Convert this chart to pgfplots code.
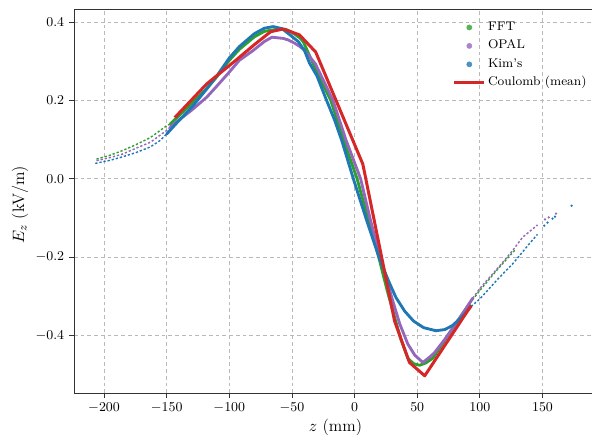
\documentclass[border=0pt]{standalone}
\usepackage{pgfplots}
\pgfplotsset{compat=1.18}

\definecolor{tabgreen}{HTML}{2CA02C}
\definecolor{tabpurple}{HTML}{9467BD}
\definecolor{tabblue}{HTML}{1F77B4}
\definecolor{tabred}{HTML}{D62728}

\pgfplotsset{
  core/.style={line width=1.9pt, line join=round, line cap=round, forget plot},
  tail/.style={line width=0.95pt, dash pattern=on 1.5pt off 1.3pt, forget plot},
  sparse/.style={only marks, mark=*, mark size=0.55pt, forget plot},
}

\begin{document}
\begin{tikzpicture}
\begin{axis}[
  scale only axis,
  width=348.7pt, height=256pt,
  xmin=-224, xmax=193.6,
  ymin=-0.547, ymax=0.433,
  xtick={-200,-150,...,150},
  ytick={-0.4,-0.2,0,0.2,0.4},
  yticklabel style={/pgf/number format/.cd, fixed, fixed zerofill, precision=1},
  tick label style={font=\fontsize{9.2}{11}\selectfont},
  tick align=outside,
  xtick pos=lower, ytick pos=left,
  major tick length=3pt,
  tick style={black!80, line width=0.5pt},
  axis line style={black!80, line width=0.6pt},
  grid=major,
  major grid style={gray!55, line width=0.5pt, dash pattern=on 2.5pt off 2pt},
  xlabel={$z$ (mm)},
  ylabel={$E_z$ (kV/m)},
  label style={font=\fontsize{11}{13}\selectfont},
  xlabel style={at={(axis description cs:0.5,-0.09)}, anchor=center},
  ylabel style={at={(axis description cs:-0.103,0.49)}, anchor=center},
  legend style={
    at={(axis description cs:0.715,0.982)}, anchor=north west,
    draw=none, fill=none,
    font=\fontsize{8.4}{10}\selectfont,
    row sep=1.3pt,
    nodes={inner sep=1.5pt, text height=6pt, text depth=2pt},
  },
  legend cell align=left,
]

% FFT
\addplot[tail, tabgreen] coordinates {
  (-206,0.050) (-195,0.060) (-185,0.072) (-175,0.086) (-163,0.105) (-150,0.135) (-147,0.140)
};
\addplot[core, tabgreen] coordinates {
  (-147,0.140) (-130,0.192) (-118,0.230) (-110,0.260) (-100,0.302) (-92,0.330)
  (-80,0.362) (-72,0.376) (-62,0.381) (-55,0.381) (-50,0.374) (-44,0.360)
  (-41,0.350) (-33,0.293) (-26,0.245) (-19,0.200) (-9,0.100) (2,0.000)
  (10,-0.093) (20,-0.209) (26,-0.285) (32,-0.354) (37,-0.410) (42.5,-0.458)
  (47,-0.472) (52,-0.476) (57,-0.470) (62.4,-0.458) (70,-0.422) (80,-0.373) (92,-0.318)
};
\addplot[tail, tabgreen] coordinates {
  (92,-0.318) (100,-0.285) (115,-0.228) (128,-0.182)
};

% OPAL
\addplot[tail, tabpurple] coordinates {
  (-206,0.046) (-195,0.054) (-185,0.063) (-175,0.077) (-163,0.093) (-150,0.123) (-147,0.133)
};
\addplot[core, tabpurple] coordinates {
  (-147,0.133) (-142,0.145) (-130,0.175) (-118,0.208) (-110,0.236) (-100,0.272)
  (-92,0.302) (-81,0.327) (-72,0.350) (-66,0.361) (-57,0.358) (-53,0.354)
  (-48,0.346) (-44,0.338) (-40,0.328) (-31.3,0.293) (-24,0.245) (-17.3,0.200)
  (-7,0.100) (4.8,0.000) (13,-0.110) (21.3,-0.209) (30.5,-0.312) (36,-0.370)
  (42.5,-0.422) (48,-0.450) (54.5,-0.469) (60,-0.455) (63.8,-0.444) (72,-0.410)
  (82,-0.365) (94.3,-0.305)
};
\addplot[tail, tabpurple] coordinates {
  (94.3,-0.305) (100,-0.280) (116,-0.222) (126,-0.184) (134,-0.150) (146,-0.118)
};
\addplot[sparse, tabpurple] coordinates {
  (152,-0.104) (155,-0.099) (160.8,-0.089)
};

% Kim's
\addplot[tail, tabblue] coordinates {
  (-207,0.039) (-195,0.047) (-185,0.056) (-175,0.066) (-163,0.081) (-155,0.098) (-150,0.114)
};
\addplot[core, tabblue] coordinates {
  (-150,0.114) (-142,0.142) (-129,0.186) (-118,0.229) (-110,0.262) (-100,0.308)
  (-92,0.337) (-80,0.370) (-72,0.384) (-65,0.388) (-58,0.383) (-52,0.368)
  (-45,0.350) (-40,0.327) (-36,0.295) (-30,0.262) (-23,0.205) (-16,0.150)
  (-10,0.095) (-1,0.000) (10,-0.110) (20,-0.205) (27,-0.260) (33,-0.303)
  (40,-0.338) (47,-0.363) (55,-0.380) (65,-0.388) (72,-0.385) (78,-0.375)
  (86,-0.352) (93,-0.326)
};
\addplot[tail, tabblue] coordinates {
  (93,-0.326) (99.6,-0.308) (115.6,-0.252) (126,-0.218) (131.5,-0.197) (139.5,-0.166) (146,-0.142)
};
\addplot[sparse, tabblue] coordinates {
  (151.4,-0.120) (154,-0.112) (158,-0.102) (160,-0.097) (173.2,-0.069)
};

% Coulomb (mean)
\addplot[tabred, line width=2pt, line join=round, forget plot] coordinates {
  (-143.5,0.156) (-118,0.242) (-95.6,0.300) (-80,0.342) (-67,0.375) (-57,0.382)
  (-44,0.367) (-31,0.323) (6.6,0.037) (31.9,-0.363) (43.8,-0.469) (56,-0.503) (93,-0.324)
};

\addlegendimage{legend image code/.code={\fill[tabgreen!80!white] (10pt,0pt) circle (1.7pt);}}
\addlegendentry{FFT}
\addlegendimage{legend image code/.code={\fill[tabpurple!80!white] (10pt,0pt) circle (1.7pt);}}
\addlegendentry{OPAL}
\addlegendimage{legend image code/.code={\fill[tabblue!80!white] (10pt,0pt) circle (1.7pt);}}
\addlegendentry{Kim's}
\addlegendimage{legend image code/.code={\draw[tabred, line width=2pt] (0pt,0pt) -- (20pt,0pt);}}
\addlegendentry{Coulomb (mean)}

\coordinate (sw) at (rel axis cs:0,0);
\coordinate (ne) at (rel axis cs:1,1);
\end{axis}
\pgfresetboundingbox
\path[use as bounding box] ([xshift=-49.3pt,yshift=-32pt]sw) rectangle ([xshift=-3.4pt,yshift=6pt]ne);
\end{tikzpicture}
\end{document}
